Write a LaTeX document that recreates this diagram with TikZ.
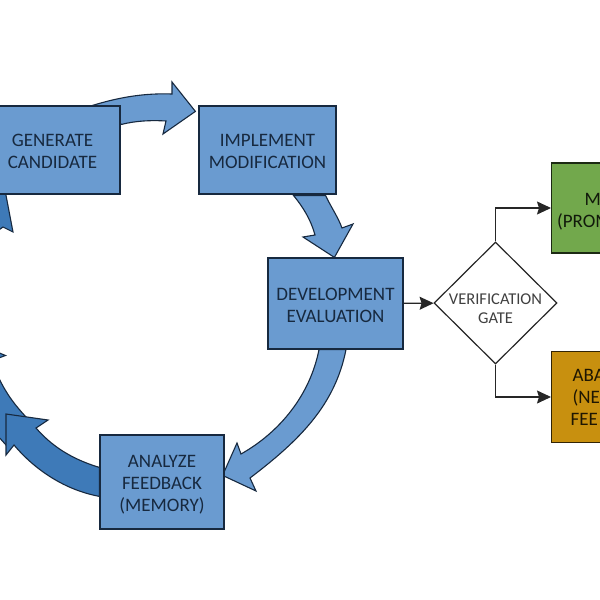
\documentclass[tikz,border=0pt]{standalone}
\usepackage{fontspec}
\setmainfont{Carlito}
\usetikzlibrary{arrows.meta, backgrounds, shapes.geometric}

\definecolor{boxblue}{HTML}{6A9BD0}
\definecolor{darkblue}{HTML}{3E7AB8}
\definecolor{boxgreen}{HTML}{72A84C}
\definecolor{boxgold}{HTML}{C8900F}
\definecolor{inkblue}{HTML}{17293F}
\newcommand{\topgap}[1]{\rule{0pt}{#1}}

\begin{document}
\begin{tikzpicture}[x=1pt,y=-1pt]
\tikzstyle{every node}=[font=\fontsize{19}{22}\selectfont, align=center, inner sep=0pt]
\tikzstyle{stagebox}=[draw=inkblue, line width=1.2pt, fill=boxblue, text=inkblue]
\tikzstyle{blockarrow}=[draw=inkblue, line width=1.1pt, fill=boxblue, line join=miter]
\tikzstyle{darkarrow}=[blockarrow, fill=darkblue]
\tikzstyle{flowline}=[draw=black!85, line width=1.2pt, -{Stealth[length=14pt,width=13pt,inset=2pt]}]

\useasboundingbox (0,0) rectangle (600,600);

\node[stagebox, minimum width=135pt, minimum height=88pt] (G) at (52.5,150) {\topgap{15pt}GENERATE\\CANDIDATE};
\node[stagebox, minimum width=137pt, minimum height=88pt] (I) at (267.5,150) {\topgap{15pt}IMPLEMENT\\MODIFICATION};
\node[stagebox, minimum width=135pt, minimum height=91pt] (D) at (335.5,303.5) {\topgap{17pt}DEVELOPMENT\\EVALUATION};
\node[stagebox, minimum width=124pt, minimum height=94pt] (A) at (162,482) {\topgap{17.5pt}ANALYZE\\FEEDBACK\\(MEMORY)};
\node[diamond, draw=black!85, line width=1.2pt, fill=white, aspect=1, minimum width=123pt, minimum height=122pt] (V) at (495.5,303) {};
\node[text=black!75, font=\fontsize{16.5}{19.5}\selectfont, yshift=-5.5pt] (Vtext) at (V) {VERIFICATION\\GATE};
\node[draw=black!75!boxgreen, line width=1.2pt, fill=boxgreen, text=black!85!boxgreen, minimum height=90pt, text width=100pt, align=left,
      anchor=west] (M) at (551,208) {\topgap{19pt}\hspace{33pt}M\\\hspace{5.5pt}(PROM};
\node[draw=black!75!boxgold, line width=1.2pt, fill=boxgold, text=black!85!boxgold, minimum height=91pt, text width=100pt, align=left,
      anchor=west] (F) at (551,397) {\hspace{21pt}ABA\\\hspace{21pt}(NE\\\hspace{19pt}FEE};

\draw[flowline] (D) -- (V);
\draw[flowline] (V.north) |- (M.west);
\draw[flowline] (V.south) |- (F.west);

\begin{scope}[on background layer]
% generate to implement
\draw[blockarrow] ([shift={(-28,0)}]G.north east) .. controls (120,97) and (145,93) .. (172,94)
  -- (172,82) -- ([shift={(-3,6)}]I.north west) -- (163,134) -- (166,121)
  .. controls (150,120) and (135,121) .. ([shift={(1,19)}]G.north east) -- cycle;
% implement to development
\draw[blockarrow] ([shift={(-43,1)}]I.south east) .. controls (303,207) and (311,220) .. (315,235)
  -- (303,237) -- ([shift={(67,0)}]D.north west) -- (353,224) -- (342,228)
  .. controls (338,217) and (331,207) .. ([shift={(-11,1)}]I.south east) -- cycle;
% development to analyze
\draw[blockarrow] ([shift={(10.5,0)}]D.south) .. controls (335,405) and (300,440) .. (250,478)
  -- (256,491) -- ([shift={(-2,41)}]A.north east) -- (237,443) -- (241,454)
  .. controls (280,432) and (310,395) .. ([shift={(-16.5,0)}]D.south) -- cycle;
% left arrows, cut by the page
\draw[darkarrow] (-20,345) -- (5.5,355.5) -- (-20,365) -- cycle;
\draw[darkarrow] (-12,352) .. controls (0,385) and (10,400) .. (27,418) -- (6,445) -- (-12,425) -- cycle;
\draw[darkarrow] (-15,240) -- (3,227) -- (13,232) -- (5,190) -- (-15,190) -- cycle;
% analyze to left
\draw[darkarrow] ([shift={(0,33)}]A.north west) .. controls (78,461) and (55,450) .. (36,428)
  -- (48,420) -- (6,414) -- (6,455) -- (14,445)
  .. controls (35,470) and (65,490) .. ([shift={(0,62)}]A.north west) -- cycle;
\end{scope}
\end{tikzpicture}
\end{document}
